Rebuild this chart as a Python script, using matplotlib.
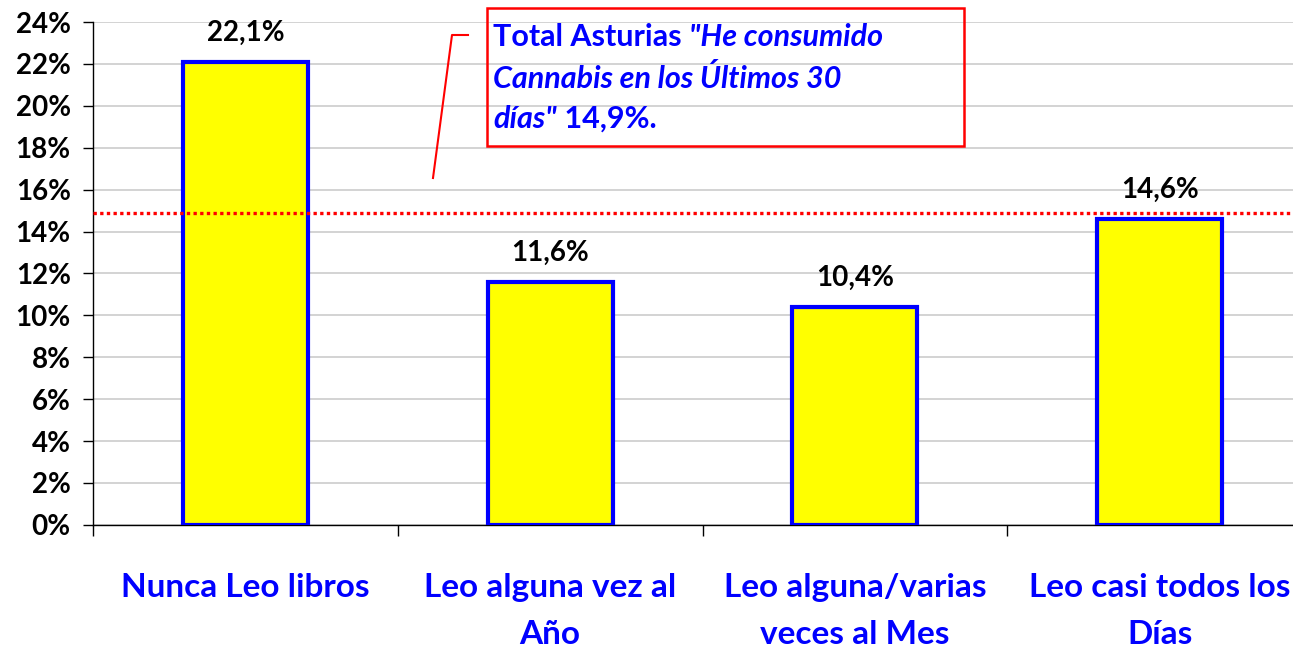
import matplotlib.pyplot as plt
from matplotlib.patches import Rectangle
from matplotlib.lines import Line2D
from matplotlib.ticker import FuncFormatter, MultipleLocator

plt.rcParams['font.family'] = ['Lato', 'DejaVu Sans']

categories = ['Nunca Leo libros', 'Leo alguna vez al\nAño',
              'Leo alguna/varias\nveces al Mes', 'Leo casi todos los\nDías']
values = [22.1, 11.6, 10.4, 14.6]
value_labels = ['22,1%', '11,6%', '10,4%', '14,6%']
total = 14.9

fig = plt.figure(figsize=(12.93, 6.48), dpi=100)
# plot area runs past the right edge of the picture, as in the original
ax = fig.add_axes([93 / 1293, 0.19, 1219 / 1293, 0.776])

x = range(len(categories))
ax.bar(x, values, width=0.41, color='#FFFF00', edgecolor='#0000FF',
       linewidth=3, zorder=3)
for i, v in enumerate(values):
    ax.annotate(value_labels[i], (i, v), xytext=(0, 21), textcoords='offset points',
                ha='center', va='center', fontsize=20, fontweight='bold', zorder=4)

ax.axhline(total, color='#FF0000', linestyle=(0, (1, 1)), linewidth=2.4, zorder=4)

ax.set_xlim(-0.5, 3.5)
ax.set_ylim(0, 24)
ax.yaxis.set_major_locator(MultipleLocator(2))
ax.yaxis.set_major_formatter(FuncFormatter(lambda v, p: f'{v:.0f}%'))
ax.grid(axis='y', color='#d0d0d0', linewidth=1.3, zorder=0)
ax.set_axisbelow(True)

ax.set_xticks(list(x))
ax.set_xticklabels(categories, fontsize=24, fontweight='bold', color='#0000FF',
                   linespacing=1.75)
ax.set_xticks([-0.5, 0.5, 1.5, 2.5, 3.5], minor=True)
ax.tick_params(axis='x', which='major', length=0, pad=35)
ax.tick_params(axis='x', which='minor', length=8, width=1)
ax.tick_params(axis='y', length=7, width=1, pad=9, labelsize=20)
for lab in ax.get_yticklabels():
    lab.set_fontweight('bold')

for s in ['top', 'right']:
    ax.spines[s].set_visible(False)
ax.spines['left'].set_linewidth(1)
ax.spines['bottom'].set_linewidth(1)

# annotation box
fig.patches.append(Rectangle((487 / 1293, 1 - 146 / 648), 477 / 1293, 138 / 648,
                             transform=fig.transFigure, fill=False,
                             edgecolor='#FF0000', linewidth=1.8, zorder=5))
fig.lines.append(Line2D([468 / 1293, 452 / 1293, 433 / 1293],
                        [1 - 35 / 648, 1 - 35 / 648, 1 - 178 / 648],
                        transform=fig.transFigure, color='#FF0000', linewidth=1.5))

lines = [
    [('Total Asturias ', 'normal'), ('"He consumido', 'italic')],
    [('Cannabis en los Últimos 30', 'italic')],
    [('días"', 'italic'), (' 14,9%.', 'normal')],
]
ys = [37, 78, 119]
for parts, yp in zip(lines, ys):
    last = None
    for txt, style in parts:
        if last is None:
            last = fig.text(493 / 1293, 1 - yp / 648, txt, fontsize=22,
                            fontweight='bold', style=style, color='#0000FF',
                            va='center', ha='left')
        else:
            last = ax.annotate(txt, xy=(1, 0.5), xycoords=last, va='center',
                               ha='left', fontsize=22, fontweight='bold',
                               style=style, color='#0000FF',
                               annotation_clip=False)

fig.savefig('out.png', dpi=100)
